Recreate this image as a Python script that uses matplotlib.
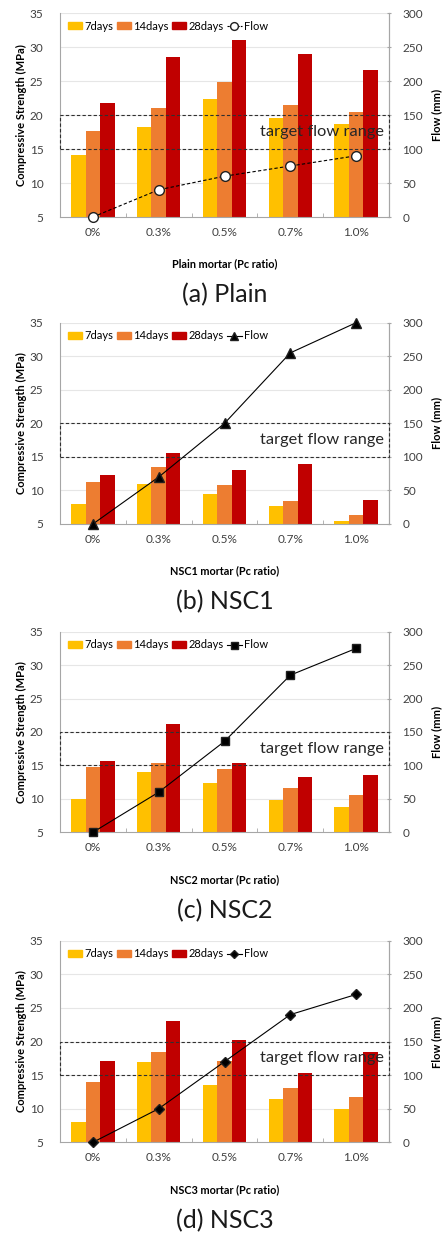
import matplotlib
matplotlib.use("Agg")
import matplotlib.pyplot as plt
from matplotlib.patches import Rectangle
from matplotlib.lines import Line2D
from matplotlib.transforms import blended_transform_factory
import numpy as np

plt.rcParams['font.family'] = ['Lato', 'DejaVu Sans']

categories = ['0%', '0.3%', '0.5%', '0.7%', '1.0%']
panel_names = ['Plain', 'NSC1', 'NSC2', 'NSC3']
panel_letters = ['(a)', '(b)', '(c)', '(d)']

plain_7d = [14.1, 18.3, 22.4, 19.5, 18.7]
plain_14d = [17.6, 21.0, 24.9, 21.5, 20.5]
plain_28d = [21.7, 28.6, 31.0, 29.0, 26.6]
plain_flow = [0, 40, 60, 75, 90]

nsc1_7d = [8.0, 10.9, 9.5, 7.7, 5.5]
nsc1_14d = [11.2, 13.5, 10.8, 8.5, 6.4]
nsc1_28d = [12.3, 15.6, 13.0, 13.9, 8.6]
nsc1_flow = [0, 70, 150, 255, 300]

nsc2_7d = [10.0, 14.0, 12.3, 9.8, 8.8]
nsc2_14d = [14.7, 15.4, 14.4, 11.6, 10.6]
nsc2_28d = [15.6, 21.2, 15.4, 13.2, 13.5]
nsc2_flow = [0, 60, 136, 235, 275]

nsc3_7d = [8.0, 16.9, 13.6, 11.4, 9.9]
nsc3_14d = [13.9, 18.4, 17.1, 13.1, 11.7]
nsc3_28d = [17.1, 23.1, 20.2, 15.3, 18.4]
nsc3_flow = [0, 50, 120, 190, 220]

series_labels = ['7days', '14days', '28days']
flow_label = 'Flow'
target_low, target_high = 100, 150

data = [
    (plain_7d, plain_14d, plain_28d, plain_flow),
    (nsc1_7d, nsc1_14d, nsc1_28d, nsc1_flow),
    (nsc2_7d, nsc2_14d, nsc2_28d, nsc2_flow),
    (nsc3_7d, nsc3_14d, nsc3_28d, nsc3_flow),
]

colors = ['#FFC000', '#ED7D31', '#C00000']
markers = [('o', 'white', '--', 7), ('^', 'black', '-', 6.5), ('s', 'black', '-', 6.3), ('D', 'black', '-', 5)]

W, H = 442, 1234
fig = plt.figure(figsize=(W / 100, H / 100), dpi=100)

tops = [13, 322.7, 631.7, 940.7]
bottoms = [217, 524, 832.3, 1142.3]
left_px, right_px = 60, 389
spine_col = '#A6A6A6'
grid_col = '#E6E6E6'

x = np.arange(len(categories))
bw = 0.22

for i, (d7, d14, d28, flow) in enumerate(data):
    top, bot = tops[i], bottoms[i]
    ax = fig.add_axes([left_px / W, 1 - bot / H, (right_px - left_px) / W, (bot - top) / H])
    ax.set_xlim(-0.5, 4.5)
    ax.set_ylim(5, 35)
    ax.set_yticks(range(5, 36, 5))
    for yv in range(10, 36, 5):
        ax.axhline(yv, color=grid_col, lw=0.8, zorder=0)

    for vals, off, c, lab in zip((d7, d14, d28), (-bw, 0, bw), colors, series_labels):
        ax.bar(x + off, vals, bw, bottom=0, color=c, label=lab, zorder=2)
    ax.set_ylim(5, 35)
    ax.set_xticks(x)
    ax.set_xticklabels(categories, fontsize=8.5, color='#404040')
    ax.set_xticks(np.arange(-0.5, 5, 1), minor=True)
    ax.tick_params(axis='x', which='major', length=0, pad=7)
    ax.tick_params(axis='x', which='minor', length=3, direction='in', color=spine_col)
    ax.tick_params(axis='y', length=0, labelsize=8.5, labelcolor='#404040', pad=12)
    ax.spines['top'].set_visible(False)
    for s in ['left', 'bottom', 'right']:
        ax.spines[s].set_color(spine_col)
        ax.spines[s].set_linewidth(0.8)
    ax.set_ylabel('Compressive Strength (MPa)', fontsize=8, fontweight='bold', labelpad=2)
    ax.set_xlabel(f'{panel_names[i]} mortar (Pc ratio)', fontsize=7.8, fontweight='bold', labelpad=15)

    ax2 = ax.twinx()
    ax2.set_ylim(0, 300)
    ax2.set_yticks(range(0, 301, 50))
    ax2.tick_params(axis='y', length=3, direction='inout', color=spine_col, labelsize=8.5, labelcolor='#404040', pad=8)
    for s in ['top', 'left', 'bottom']:
        ax2.spines[s].set_visible(False)
    ax2.spines['right'].set_color(spine_col)
    ax2.spines['right'].set_linewidth(0.8)
    ax2.set_ylabel('Flow (mm)', fontsize=8, fontweight='bold', labelpad=6)

    # target flow range box, drawn over the bars
    trans = blended_transform_factory(ax2.transAxes, ax2.transData)
    rect = Rectangle((0, target_low), 1, target_high - target_low, transform=trans,
                     fill=False, ls=(0, (3, 2)), lw=0.8, edgecolor='#303030', zorder=3, clip_on=False)
    ax2.add_patch(rect)
    ax2.text(0.985, (target_low + target_high) / 2, 'target flow range', transform=trans,
             ha='right', va='center', fontsize=11.8, color='#262626', zorder=4)

    mk, mfc, ls, ms = markers[i]
    ax2.plot(x, flow, color='black', ls=ls if i else (0, (3, 2)), lw=0.8, marker=mk,
             markerfacecolor=mfc, markeredgecolor='#202020', markersize=ms, clip_on=False, zorder=5)

    handles = [Rectangle((0, 0), 1, 1, color=c) for c in colors]
    handles.append(Line2D([0], [0], color='black', ls=ls if i else (0, (2, 1)), lw=0.8, marker=mk,
                          markerfacecolor=mfc, markeredgecolor='#202020', markersize=ms * 0.8))
    ax2.legend(handles, series_labels + [flow_label], loc='upper left', ncol=4, frameon=False,
               fontsize=8, handlelength=1.3, handleheight=0.6, handletextpad=0.2,
               columnspacing=0.3, borderaxespad=0.3, bbox_to_anchor=(0.0, 1.0))

    fig.text((left_px + right_px) / 2 / W, 1 - (bot + 78) / H,
             f'{panel_letters[i]} {panel_names[i]}', ha='center', va='center', fontsize=18, color='#1a1a1a')

fig.savefig('out.png', dpi=100)
